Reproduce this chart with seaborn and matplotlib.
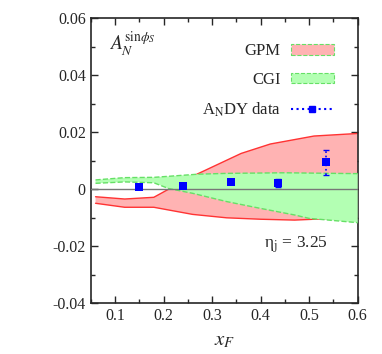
import numpy as np
import matplotlib
matplotlib.use("Agg")
import matplotlib.pyplot as plt
import seaborn as sns
from matplotlib.patches import Patch
from matplotlib.lines import Line2D
from matplotlib.ticker import MultipleLocator

# GPM band (red)
gpm_up_x = [0.06, 0.12, 0.18, 0.21, 0.27, 0.36, 0.42, 0.51, 0.60]
gpm_up_y = [-0.0026, -0.0034, -0.0028, 0.0, 0.0054, 0.0126, 0.0159, 0.0187, 0.0196]
gpm_lo_x = [0.06, 0.12, 0.18, 0.26, 0.33, 0.40, 0.47, 0.51, 0.60]
gpm_lo_y = [-0.0049, -0.0063, -0.0063, -0.0088, -0.0100, -0.0105, -0.0108, -0.0105, -0.0100]

# CGI band (green)
cgi_up_x = [0.06, 0.12, 0.18, 0.27, 0.33, 0.45, 0.60]
cgi_up_y = [0.0033, 0.0041, 0.0042, 0.0053, 0.0056, 0.0058, 0.0055]
cgi_lo_x = [0.06, 0.12, 0.18, 0.21, 0.26, 0.33, 0.40, 0.47, 0.50, 0.60]
cgi_lo_y = [0.0021, 0.0026, 0.0023, 0.0003, -0.0014, -0.0043, -0.0067, -0.0090, -0.0102, -0.0117]

# AnDY data
andy_x = [0.15, 0.24, 0.34, 0.435, 0.535]
andy_y = [0.0009, 0.0013, 0.0025, 0.0021, 0.0095]
andy_err = [0.0003, 0.0003, 0.0003, 0.0014, 0.0044]

sns.set_style("ticks")
plt.rcParams['font.family'] = ['Liberation Serif', 'DejaVu Serif']
plt.rcParams['mathtext.fontset'] = 'stix'

fig = plt.figure(figsize=(3.82, 3.54), dpi=100)
ax = fig.add_axes([0.2374, 0.1432, 0.699, 0.805])

red_fill = '#ffb3b3'
red_line = '#ff3333'
green_fill = '#b3ffb3'
green_line = '#66e066'

# GPM
ax.fill(np.r_[gpm_up_x, gpm_lo_x[::-1]], np.r_[gpm_up_y, gpm_lo_y[::-1]],
        color=red_fill, lw=0, zorder=1)
sns.lineplot(x=gpm_up_x, y=gpm_up_y, ax=ax, color=red_line, lw=1, zorder=2)
sns.lineplot(x=gpm_lo_x, y=gpm_lo_y, ax=ax, color=red_line, lw=1, zorder=2)

# CGI
ax.fill(np.r_[cgi_up_x, cgi_lo_x[::-1]], np.r_[cgi_up_y, cgi_lo_y[::-1]],
        color=green_fill, lw=0, zorder=3)
sns.lineplot(x=cgi_up_x, y=cgi_up_y, ax=ax, color=green_line, lw=1, ls='--', zorder=4)
sns.lineplot(x=cgi_lo_x, y=cgi_lo_y, ax=ax, color=green_line, lw=1, ls='--', zorder=4)

ax.axhline(0, color='#777777', lw=1, zorder=5)

# data
eb = ax.errorbar(andy_x, andy_y, yerr=andy_err, fmt='none', ecolor='blue',
                 elinewidth=1.2, capsize=2, zorder=6)
for lc in eb[2]:
    lc.set_linestyle(':')
sns.scatterplot(x=andy_x, y=andy_y, ax=ax, marker='s', color='blue', s=30,
                edgecolor='blue', linewidth=0, zorder=7)

ax.set_xlim(0.05, 0.6)
ax.set_ylim(-0.04, 0.06)
ax.xaxis.set_major_locator(MultipleLocator(0.1))
ax.xaxis.set_minor_locator(MultipleLocator(0.05))
ax.yaxis.set_major_locator(MultipleLocator(0.02))
ax.yaxis.set_minor_locator(MultipleLocator(0.01))
ax.tick_params(which='both', direction='in', top=True, right=True, labelsize=11.5, width=1)
ax.tick_params(which='major', length=5)
ax.tick_params(which='minor', length=3)
ax.xaxis.set_major_formatter(plt.FuncFormatter(lambda v, p: f"{v:g}"))
ax.yaxis.set_major_formatter(plt.FuncFormatter(lambda v, p: "0" if abs(v) < 1e-9 else f"{v:.2f}"))
for sp in ax.spines.values():
    sp.set_linewidth(1.2)
    sp.set_visible(True)

ax.set_xlabel(r'$x_F$', fontsize=15, labelpad=5)

ax.text(0.07, 0.91, r'$A_N^{\mathrm{sin}\phi_S}$', transform=ax.transAxes, fontsize=14,
        ha='left', va='center')
ax.text(0.77, 0.205, 'η$_\\mathrm{j}$ = 3.25', transform=ax.transAxes, fontsize=12.5,
        ha='center', va='center')

handles = [
    Patch(facecolor=red_fill, edgecolor=green_line, ls='--', lw=0.8),
    Patch(facecolor=green_fill, edgecolor=green_line, ls='--', lw=0.8),
    Line2D([], [], color='blue', ls=':', marker='s', markersize=5, lw=1.5),
]
labels = ['GPM', 'CGI', r'A$_\mathrm{N}$DY data']
ax.legend(handles, labels, loc='upper right', bbox_to_anchor=(0.968, 0.965),
          frameon=False, markerfirst=False, fontsize=12, handlelength=2.6,
          handleheight=0.6, labelspacing=0.75, handletextpad=0.6)

fig.savefig('out.png', dpi=100)
